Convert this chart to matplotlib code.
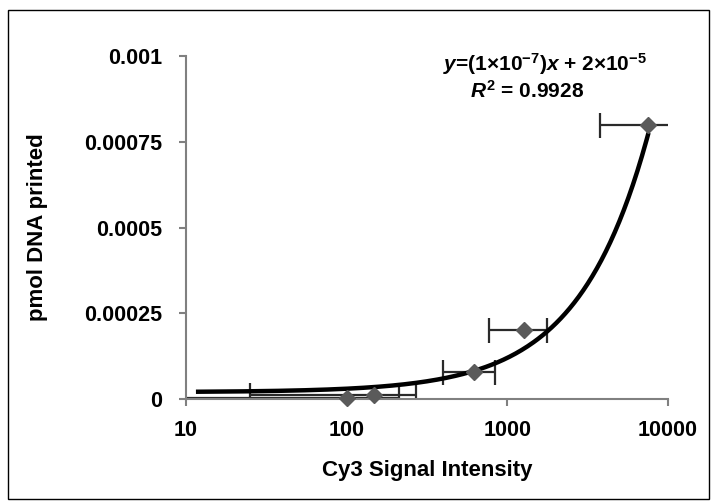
import numpy as np
import matplotlib.pyplot as plt
from matplotlib.patches import Rectangle

plt.rcParams['font.family'] = ['Liberation Sans', 'DejaVu Sans']
plt.rcParams['font.weight'] = 'bold'
plt.rcParams['mathtext.fontset'] = 'custom'
plt.rcParams['mathtext.rm'] = 'Liberation Sans:bold'
plt.rcParams['mathtext.it'] = 'Liberation Sans:bold:italic'
plt.rcParams['mathtext.bf'] = 'Liberation Sans:bold'

# data
signal = [100, 147, 620, 1270, 7500]
signal_err = [111, 122, 223, 500, 3700]
pmol = [0.000003, 0.000013, 0.00008, 0.0002, 0.0008]

slope = 1e-7
intercept = 2e-5
fit_range = [11.9, 7500]

yticks = [0, 0.00025, 0.0005, 0.00075, 0.001]
ytick_labels = ['0', '0.00025', '0.0005', '0.00075', '0.001']
xticks = [10, 100, 1000, 10000]
xtick_labels = ['10', '100', '1000', '10000']

fig = plt.figure(figsize=(7.13, 5.01), dpi=100)
ax = fig.add_axes([0.2609, 0.2036, 0.6760, 0.6846])

# outer frame
fig.patches.append(Rectangle((8/713, 1 - 499/501), 701/713, 489/501,
                             transform=fig.transFigure, fill=False,
                             edgecolor='black', linewidth=1))

ax.set_xscale('log')

# error bars (clipped by axes)
ax.errorbar(signal, pmol, xerr=signal_err, fmt='none', ecolor='#2a2a2a',
            elinewidth=1.6, capsize=9, capthick=1.6, zorder=2)

# trend line
xfit = np.logspace(np.log10(fit_range[0]), np.log10(fit_range[1]), 300)
ax.plot(xfit, slope * xfit + intercept, color='black', linewidth=3.2, zorder=3)

# markers
ax.plot(signal, pmol, 'D', color='#5a5a5a', markersize=8.5, clip_on=False, zorder=4)

ax.set_xlim(10, 10000)
ax.set_ylim(0, 0.001)
ax.set_xticks(xticks)
ax.set_xticklabels(xtick_labels)
ax.xaxis.set_minor_locator(plt.NullLocator())
ax.set_yticks(yticks)
ax.set_yticklabels(ytick_labels)

for s in ['top', 'right']:
    ax.spines[s].set_visible(False)
for s in ['left', 'bottom']:
    ax.spines[s].set_color('#808080')
    ax.spines[s].set_linewidth(1.5)
ax.tick_params(axis='both', colors='#808080', length=5, width=1.5,
               labelsize=15.5, labelcolor='black')
ax.tick_params(axis='x', pad=10)
ax.tick_params(axis='y', pad=12)

ax.set_xlabel('Cy3 Signal Intensity', fontsize=16, fontweight='bold', labelpad=14)
ax.set_ylabel('pmol DNA printed', fontsize=16, fontweight='bold', labelpad=26)

fig.text(545/713, 1 - 64/501, r'$y$=(1×10$^{-7}$)$x$ + 2×10$^{-5}$',
         fontsize=15, fontweight='bold', ha='center', va='center')
fig.text(527/713, 1 - 91/501, r'$R^2$ = 0.9928',
         fontsize=15, fontweight='bold', ha='center', va='center')

fig.savefig('out.png', dpi=100)
